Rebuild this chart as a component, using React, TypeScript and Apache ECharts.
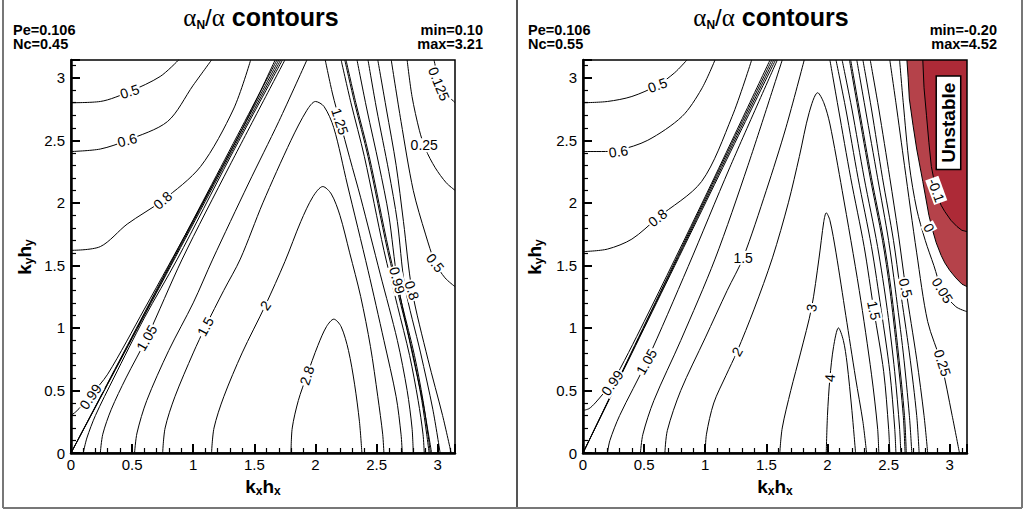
import React, { useEffect, useRef } from 'react';
import * as echarts from 'echarts';

type Pt = [number, number];
type Lbl = [number, number, number, string];

const FONT = '"Liberation Sans", Arial, Helvetica, sans-serif';
const SERIF = '"Liberation Serif", "Times New Roman", serif';
const PI = Math.PI;

// ---------- header texts ----------
const leftInfo = ['Pe=0.106', 'Nc=0.45'];
const leftRange = ['min=0.10', 'max=3.21'];
const rightInfo = ['Pe=0.106', 'Nc=0.55'];
const rightRange = ['min=-0.20', 'max=4.52'];

// ---------- left panel (Nc = 0.45) contour lines, [kx*hx, ky*hy] ----------
const L_050: Pt[] = [[0, 2.80], [0.24, 2.81], [0.48, 2.89], [0.73, 3.01], [0.88, PI]];
const L_060: Pt[] = [[0, 2.41], [0.24, 2.43], [0.46, 2.50], [0.79, 2.65], [1.0, 2.94], [1.15, PI]];
const L_080: Pt[] = [[0, 1.62], [0.24, 1.65], [0.46, 1.83], [0.75, 2.02], [1.06, 2.29], [1.33, 2.75], [1.47, PI]];
const L_bundleA: Pt[] = [[0, 0], [1.685, PI]];
const L_bundleB: Pt[] = [[0, 0], [1.70, PI]];
const L_bundleC: Pt[] = [[0, 0], [1.715, PI]];
const L_099: Pt[] = [[0, 0.30], [0.04, 0.33], [0.09, 0.38], [0.16, 0.46], [0.3, 0.63], [0.6, 1.15], [1.0, 1.86], [1.4, 2.59], [1.67, PI]];
const L_101: Pt[] = [[0.1, 0], [0.13, 0.12], [0.2, 0.3], [0.35, 0.6], [0.6, 1.08], [0.87, 1.55], [1.3, 2.36], [1.73, PI]];
const L_105: Pt[] = [[0.24, 0], [0.26, 0.15], [0.33, 0.35], [0.45, 0.6], [0.62, 0.92], [0.91, 1.55], [1.3, 2.3], [1.75, PI]];
const L_125: Pt[] = [[0.52, 0], [0.54, 0.16], [0.62, 0.42], [0.8, 0.82], [1.0, 1.2], [1.16, 1.55], [1.45, 2.15], [1.7, 2.65], [1.93, PI]];
const L_150: Pt[] = [[0.75, 0], [0.77, 0.2], [0.85, 0.45], [1.0, 0.8], [1.10, 1.01], [1.25, 1.30], [1.385, 1.55], [1.57, 2.0], [1.80, 2.50], [1.93, 2.74], [2.0, 2.81], [2.07, 2.77], [2.15, 2.6], [2.26, 2.15], [2.43, 1.46], [2.56, 0.90], [2.66, 0.45], [2.70, 0.15], [2.71, 0]];
const L_200: Pt[] = [[1.15, 0], [1.17, 0.2], [1.25, 0.45], [1.4, 0.8], [1.59, 1.18], [1.75, 1.53], [1.88, 1.85], [1.98, 2.05], [2.06, 2.13], [2.13, 2.07], [2.20, 1.90], [2.28, 1.6], [2.37, 1.25], [2.45, 0.85], [2.51, 0.45], [2.55, 0.15], [2.56, 0]];
const L_280: Pt[] = [[1.80, 0], [1.81, 0.2], [1.86, 0.42], [1.93, 0.62], [2.02, 0.86], [2.09, 1.01], [2.15, 1.07], [2.21, 1.01], [2.27, 0.82], [2.32, 0.55], [2.36, 0.25], [2.38, 0]];
const L_125R: Pt[] = [[2.08, PI], [2.14, 2.87], [2.20, 2.65], [2.28, 2.36], [2.37, 2.04], [2.53, 1.43], [2.67, 0.9], [2.75, 0.5], [2.79, 0.2], [2.80, 0]];
const L_105R: Pt[] = [[2.21, PI], [2.29, 2.8], [2.40, 2.37], [2.56, 1.62], [2.67, 1.18], [2.77, 0.78], [2.84, 0.42], [2.88, 0.15], [2.89, 0]];
const L_100R: Pt[] = [[2.24, PI], [2.32, 2.8], [2.43, 2.37], [2.59, 1.62], [2.70, 1.18], [2.80, 0.78], [2.87, 0.42], [2.91, 0.15], [2.93, 0]];
const L_100R2: Pt[] = [[2.25, PI], [2.33, 2.8], [2.44, 2.37], [2.60, 1.62], [2.71, 1.18], [2.81, 0.78], [2.88, 0.42], [2.92, 0.15], [2.94, 0]];
const L_099R: Pt[] = [[2.34, PI], [2.42, 2.75], [2.52, 2.3], [2.60, 1.90], [2.67, 1.38], [2.78, 0.85], [2.88, 0.4], [2.93, 0.12], [2.95, 0]];
const L_090R: Pt[] = [[2.43, PI], [2.50, 2.75], [2.60, 2.25], [2.67, 1.85], [2.73, 1.34], [2.86, 0.8], [2.96, 0.35], [3.02, 0]];
const L_080R: Pt[] = [[2.51, PI], [2.58, 2.75], [2.66, 2.3], [2.72, 1.85], [2.79, 1.30], [2.92, 0.75], [3.04, 0.3], [3.11, 0]];
const L_050R: Pt[] = [[2.62, PI], [2.70, 2.65], [2.80, 2.10], [2.90, 1.75], [2.98, 1.52], [3.06, 1.40], [PI, 1.33]];
const L_025: Pt[] = [[2.75, PI], [2.79, 2.85], [2.85, 2.58], [2.90, 2.43], [2.98, 2.28], [3.07, 2.16], [PI, 2.10]];
const L_0125: Pt[] = [[2.97, PI], [3.0, 3.02], [3.05, 2.90], [PI, 2.80]];

const leftLines: Pt[][] = [L_050, L_060, L_080, L_bundleA, L_bundleB, L_bundleC, L_099, L_101, L_105, L_125, L_150, L_200, L_280,
  L_125R, L_105R, L_100R, L_100R2, L_099R, L_090R, L_080R, L_050R, L_025, L_0125];

const leftLabels: Lbl[] = [
  [0.48, 2.89, 18, '0.5'], [0.46, 2.50, 15, '0.6'], [0.75, 2.02, 42, '0.8'], [0.16, 0.45, 55, '0.99'],
  [0.62, 0.92, 60, '1.05'], [1.10, 1.01, 62, '1.5'], [1.59, 1.18, 55, '2'], [1.93, 0.62, 72, '2.8'],
  [2.20, 2.65, -72, '1.25'], [2.67, 1.38, -75, '0.99'], [2.79, 1.30, -72, '0.8'], [2.98, 1.52, -52, '0.5'],
  [2.89, 2.46, 0, '0.25'], [3.01, 2.95, -68, '0.125'],
];

// ---------- right panel (Nc = 0.55) contour lines ----------
const R_050: Pt[] = [[0, 2.80], [0.2, 2.81], [0.4, 2.85], [0.61, 2.94], [0.75, 3.04], [0.85, PI]];
const R_060: Pt[] = [[0, 2.41], [0.15, 2.41], [0.29, 2.42], [0.53, 2.50], [0.81, 2.69], [0.97, 2.91], [1.08, PI]];
const R_080: Pt[] = [[0, 1.61], [0.2, 1.63], [0.4, 1.71], [0.61, 1.88], [0.97, 2.17], [1.22, 2.69], [1.38, PI]];
const R_bundleA: Pt[] = [[0, 0], [1.545, PI]];
const R_bundleB: Pt[] = [[0, 0], [1.56, PI]];
const R_bundleC: Pt[] = [[0, 0], [1.575, PI]];
const R_099: Pt[] = [[0, 0.34], [0.05, 0.355], [0.10, 0.40], [0.17, 0.48], [0.24, 0.56], [0.5, 1.05], [1.0, 2.05], [1.53, PI]];
const R_105: Pt[] = [[0.2, 0], [0.22, 0.1], [0.3, 0.3], [0.52, 0.73], [0.86, 1.49], [1.2, 2.28], [1.59, PI]];
const R_125: Pt[] = [[0.47, 0], [0.49, 0.15], [0.58, 0.42], [0.8, 0.9], [1.08, 1.55], [1.35, 2.3], [1.63, PI]];
const R_150: Pt[] = [[0.67, 0], [0.69, 0.18], [0.8, 0.5], [1.0, 0.92], [1.18, 1.3], [1.31, 1.56], [1.5, 2.1], [1.66, 2.6], [1.81, PI]];
const R_200: Pt[] = [[1.0, 0], [1.01, 0.15], [1.07, 0.4], [1.17, 0.62], [1.26, 0.81], [1.4, 1.15], [1.55, 1.56], [1.68, 2.0], [1.77, 2.37], [1.85, 2.72], [1.92, 2.88], [1.97, 2.80], [2.02, 2.63], [2.12, 2.10], [2.26, 1.30], [2.36, 0.63], [2.41, 0.2], [2.42, 0]];
const R_300: Pt[] = [[1.61, 0], [1.63, 0.2], [1.7, 0.5], [1.78, 0.8], [1.87, 1.16], [1.93, 1.55], [1.97, 1.85], [1.99, 1.92], [2.02, 1.86], [2.07, 1.6], [2.15, 1.1], [2.23, 0.6], [2.29, 0.25], [2.32, 0]];
const R_400: Pt[] = [[1.99, 0], [2.0, 0.3], [2.02, 0.6], [2.05, 0.85], [2.09, 1.0], [2.13, 0.9], [2.16, 0.72], [2.20, 0.34], [2.23, 0]];
const R_150R: Pt[] = [[2.02, PI], [2.09, 2.75], [2.19, 2.2], [2.30, 1.65], [2.38, 1.14], [2.46, 0.65], [2.50, 0.2], [2.51, 0]];
const R_125R: Pt[] = [[2.07, PI], [2.15, 2.75], [2.25, 2.2], [2.36, 1.65], [2.44, 1.14], [2.51, 0.65], [2.55, 0.2], [2.56, 0]];
const R_105R: Pt[] = [[2.12, PI], [2.20, 2.75], [2.30, 2.2], [2.41, 1.65], [2.49, 1.14], [2.55, 0.65], [2.59, 0.2], [2.60, 0]];
const R_100R: Pt[] = [[2.18, PI], [2.25, 2.75], [2.35, 2.2], [2.45, 1.7], [2.51, 1.31], [2.57, 0.8], [2.62, 0.3], [2.635, 0]];
const R_100R2: Pt[] = [[2.19, PI], [2.26, 2.75], [2.36, 2.2], [2.46, 1.7], [2.52, 1.31], [2.58, 0.8], [2.63, 0.3], [2.645, 0]];
const R_095R: Pt[] = [[2.24, PI], [2.31, 2.75], [2.41, 2.2], [2.50, 1.7], [2.555, 1.31], [2.62, 0.8], [2.67, 0.3], [2.69, 0]];
const R_080R: Pt[] = [[2.29, PI], [2.36, 2.75], [2.45, 2.2], [2.54, 1.7], [2.595, 1.31], [2.67, 0.8], [2.73, 0.3], [2.75, 0]];
const R_050R: Pt[] = [[2.35, PI], [2.42, 2.75], [2.51, 2.2], [2.58, 1.75], [2.64, 1.32], [2.73, 0.75], [2.79, 0.3], [2.82, 0]];
const R_025R: Pt[] = [[2.51, PI], [2.56, 2.8], [2.63, 2.3], [2.73, 1.6], [2.82, 1.05], [2.93, 0.72], [3.02, 0.3], [3.08, 0]];
const R_005: Pt[] = [[2.59, PI], [2.62, 2.8], [2.67, 2.3], [2.73, 1.95], [2.80, 1.70], [2.87, 1.50], [2.94, 1.30], [3.05, 1.17], [PI, 1.13]];
const R_000: Pt[] = [[2.65, PI], [2.66, 3.0], [2.67, 2.83], [2.70, 2.62], [2.73, 2.43], [2.78, 2.17], [2.83, 1.90], [2.86, 1.78], [2.89, 1.68], [2.93, 1.58], [2.96, 1.52], [3.0, 1.46], [3.05, 1.40], [3.1, 1.35], [PI, 1.33]];
const R_m010: Pt[] = [[2.78, PI], [2.79, 2.92], [2.81, 2.70], [2.83, 2.48], [2.85, 2.29], [2.88, 2.14], [2.90, 2.06], [2.93, 1.98], [2.96, 1.93], [3.01, 1.86], [3.06, 1.81], [3.1, 1.78], [PI, 1.77]];

const rightLines: Pt[][] = [R_050, R_060, R_080, R_bundleA, R_bundleB, R_bundleC, R_099, R_105, R_125, R_150, R_200, R_300, R_400,
  R_150R, R_125R, R_105R, R_100R, R_100R2, R_095R, R_080R, R_050R, R_025R, R_005];
const rightSharpLines: Pt[][] = [R_000, R_m010];

const rightLabels: Lbl[] = [
  [0.61, 2.94, 20, '0.5'], [0.29, 2.41, 8, '0.6'], [0.61, 1.88, 38, '0.8'], [0.24, 0.56, 55, '0.99'],
  [0.52, 0.73, 60, '1.05'], [1.31, 1.56, 0, '1.5'], [1.26, 0.81, 60, '2'], [1.87, 1.16, 80, '3'],
  [2.02, 0.60, 86, '4'], [2.38, 1.14, -78, '1.5'], [2.64, 1.32, -76, '0.5'], [2.94, 1.30, -58, '0.05'],
  [2.94, 0.72, -72, '0.25'], [2.83, 1.80, -62, '0'], [2.89, 2.10, -70, '-0.1'],
];
const unstableNote: Lbl = [2.99, 2.64, 90, 'Unstable'];

const OUT = 3.6; // beyond the axis range, clipped by the grid
const lightRed: Pt[] = [[R_000[0][0], OUT], ...R_000, [OUT, R_000[R_000.length - 1][1]], [OUT, OUT]];
const darkRed: Pt[] = [[R_m010[0][0], OUT], ...R_m010, [OUT, R_m010[R_m010.length - 1][1]], [OUT, OUT]];

const GRIDS = [
  { left: 71, top: 60, width: 384, height: 393 },
  { left: 583, top: 60, width: 384, height: 393 },
];

function tickFmt(v: number) {
  const r = Math.round(v / 0.5) * 0.5;
  return Math.abs(v - r) < 1e-6 ? String(r) : '';
}

function axisCommon(gridIndex: number, labelMargin: number) {
  return {
    gridIndex,
    type: 'value',
    min: 0,
    max: PI,
    interval: 0.5,
    axisLine: { show: true, onZero: false, lineStyle: { color: '#000', width: 2.5 } },
    axisTick: { show: true, inside: true, length: 9, lineStyle: { color: '#000', width: 2 } },
    minorTick: { show: true, splitNumber: 5, length: 5, lineStyle: { color: '#000', width: 1.2 } },
    splitLine: { show: false },
    minorSplitLine: { show: false },
    axisLabel: { formatter: tickFmt, color: '#000', fontSize: 15, fontFamily: FONT, margin: labelMargin },
  };
}

function lineSeries(pts: Pt[], idx: number, smooth: number | boolean) {
  return {
    type: 'line', xAxisIndex: idx, yAxisIndex: idx, data: pts, symbol: 'none', showSymbol: false,
    smooth, lineStyle: { color: '#000', width: 1 }, silent: true, z: 3, clip: true,
  };
}

function labelSeries(labels: Lbl[], idx: number) {
  return {
    type: 'scatter', xAxisIndex: idx, yAxisIndex: idx, symbolSize: 1, silent: true, z: 5,
    itemStyle: { color: 'rgba(0,0,0,0)', opacity: 1 },
    data: labels.map(([x, y, r, t]) => ({ value: [x, y], name: t, label: { rotate: r } })),
    label: {
      show: true, position: 'inside', formatter: '{b}', color: '#000', fontSize: 14, fontFamily: FONT,
      backgroundColor: '#fff', padding: [0, 1],
    },
  };
}

function polygonSeries(poly: Pt[], idx: number, color: string, z: number) {
  return {
    type: 'custom', xAxisIndex: idx, yAxisIndex: idx, silent: true, z, clip: true,
    data: [poly[1]],
    renderItem: (_p: any, api: any) => ({
      type: 'polygon',
      shape: { points: poly.map((p) => api.coord(p)) },
      style: { fill: color, stroke: 'none' },
    }),
  };
}

function titleText(cx: number) {
  return {
    type: 'text', x: cx, y: 17, silent: true,
    style: {
      text: '{a|α}{n|N}{s|/}{a|α}{c| contours}',
      align: 'center', verticalAlign: 'middle', fill: '#000',
      rich: {
        a: { fontFamily: SERIF, fontSize: 25, lineHeight: 28, verticalAlign: 'middle' },
        n: { fontFamily: FONT, fontSize: 12, fontWeight: 'bold', lineHeight: 14, verticalAlign: 'bottom' },
        s: { fontFamily: FONT, fontSize: 24, lineHeight: 28, verticalAlign: 'middle' },
        c: { fontFamily: FONT, fontSize: 25, fontWeight: 'bold', lineHeight: 28, verticalAlign: 'middle' },
      },
    },
  };
}

function infoText(x: number, y: number, text: string, align: string) {
  return {
    type: 'text', x, y, silent: true,
    style: {
      text, align, verticalAlign: 'middle', fill: '#000',
      fontFamily: FONT, fontSize: 14.5, fontWeight: 'bold',
    },
  };
}

function infoBlock(x: number, lines: string[], align: string) {
  return [infoText(x, 30, lines[0], align), infoText(x, 44, lines[1], align)];
}

const kRich = {
  k: { fontFamily: FONT, fontSize: 19, fontWeight: 'bold', lineHeight: 22, verticalAlign: 'middle' },
  s: { fontFamily: FONT, fontSize: 12, fontWeight: 'bold', lineHeight: 6, verticalAlign: 'bottom' },
};

function axisName(x: number, y: number, sub: string, rotation: number) {
  return {
    type: 'text', x, y, rotation, silent: true,
    style: {
      text: `{k|k}{s|${sub}}{k|h}{s|${sub}}`, align: 'center', verticalAlign: 'middle', fill: '#000',
      rich: kRich,
    },
  };
}

export default function App() {
  const ref = useRef<HTMLDivElement>(null);
  useEffect(() => {
    if (!ref.current) return;
    const chart = echarts.init(ref.current, undefined, { renderer: 'svg' });
    const series: any[] = [
      polygonSeries(lightRed, 1, '#b5424a', 1),
      polygonSeries(darkRed, 1, '#ad2a37', 1),
      ...leftLines.map((l) => lineSeries(l, 0, 0.3)),
      ...rightLines.map((l) => lineSeries(l, 1, 0.3)),
      ...rightSharpLines.map((l) => lineSeries(l, 1, false)),
      labelSeries(leftLabels, 0),
      labelSeries(rightLabels, 1),
      {
        type: 'scatter', xAxisIndex: 1, yAxisIndex: 1, symbolSize: 1, silent: true, z: 6,
        itemStyle: { color: 'rgba(0,0,0,0)', opacity: 1 },
        data: [{ value: [unstableNote[0], unstableNote[1]], name: unstableNote[3] }],
        label: {
          show: true, position: 'inside', formatter: '{b}', rotate: unstableNote[2], color: '#000',
          fontSize: 19, fontWeight: 'bold', fontFamily: FONT, backgroundColor: '#fff',
          borderColor: '#000', borderWidth: 1.5, padding: [3, 6, 1, 6],
        },
      },
    ];
    const graphic: any[] = [
      titleText(261),
      titleText(771),
      ...infoBlock(13, leftInfo, 'left'),
      ...infoBlock(483, leftRange, 'right'),
      ...infoBlock(528, rightInfo, 'left'),
      ...infoBlock(997, rightRange, 'right'),
      axisName(263, 486, 'x', 0),
      axisName(775, 486, 'x', 0),
      axisName(24, 257, 'y', Math.PI / 2),
      axisName(534, 257, 'y', Math.PI / 2),
      ...GRIDS.map((g) => ({
        type: 'rect', silent: true, z: 100,
        shape: { x: g.left, y: g.top, width: g.width, height: g.height },
        style: { fill: 'none', stroke: '#000', lineWidth: 1.5 },
      })),
      { type: 'line', silent: true, z: 100, shape: { x1: 3, y1: 0, x2: 3, y2: 508 }, style: { stroke: '#777', lineWidth: 2 } },
      { type: 'line', silent: true, z: 100, shape: { x1: 517, y1: 0, x2: 517, y2: 508 }, style: { stroke: '#555', lineWidth: 2 } },
      { type: 'line', silent: true, z: 100, shape: { x1: 1022, y1: 0, x2: 1022, y2: 508 }, style: { stroke: '#777', lineWidth: 2 } },
      { type: 'line', silent: true, z: 100, shape: { x1: 3, y1: 508, x2: 1022, y2: 508 }, style: { stroke: '#777', lineWidth: 2 } },
    ];
    chart.setOption({
      animation: false,
      backgroundColor: '#fff',
      grid: GRIDS.map((g) => ({ ...g, show: false, outerBoundsMode: 'none', containLabel: false })),
      xAxis: [axisCommon(0, 4), axisCommon(1, 4)],
      yAxis: [axisCommon(0, 6), axisCommon(1, 6)],
      series,
      graphic,
    });
    return () => chart.dispose();
  }, []);
  return (
    <div
      ref={ref}
      style={{ position: 'fixed', left: 0, top: 0, width: 1025, height: 515, background: '#fff' }}
    />
  );
}
